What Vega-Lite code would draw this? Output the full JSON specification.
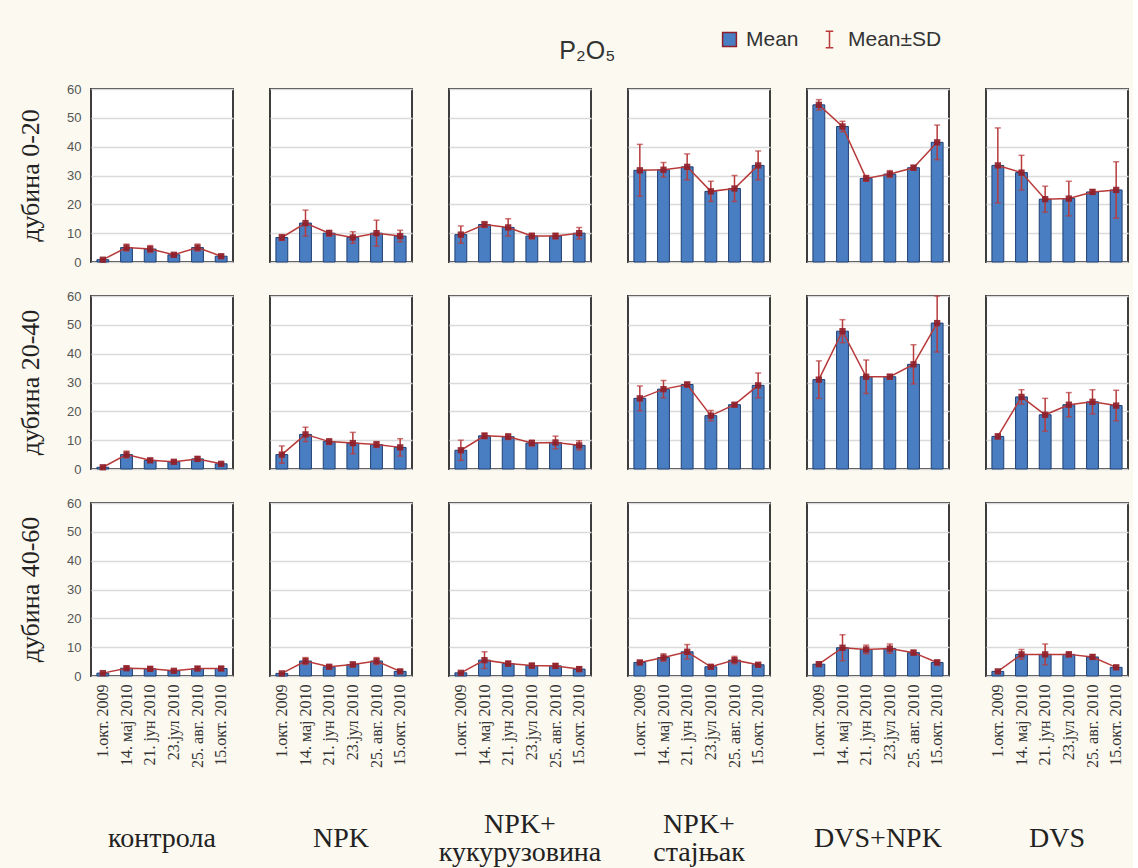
{
  "$schema": "https://vega.github.io/schema/vega-lite/v6.json",
  "background": "#fcf9f0",
  "padding": {"left": 17, "top": 29, "right": 4, "bottom": 0},
  "title": {"text": "P₂O₅", "font": "Liberation Sans", "fontSize": 25, "fontWeight": "normal", "color": "#333", "offset": 0, "dy": 35, "dx": 14, "anchor": "middle"},
  "datasets": {
    "p": [
      {"d":"дубина 0-20","t":"контрола","x":"1.окт. 2009","m":0.8,"s":0.3},
      {"d":"дубина 0-20","t":"контрола","x":"14. мај 2010","m":5,"s":1.2},
      {"d":"дубина 0-20","t":"контрола","x":"21. јун 2010","m":4.5,"s":1.2},
      {"d":"дубина 0-20","t":"контрола","x":"23.јул 2010","m":2.5,"s":0.5},
      {"d":"дубина 0-20","t":"контрола","x":"25. авг. 2010","m":5,"s":1.2},
      {"d":"дубина 0-20","t":"контрола","x":"15.окт. 2010","m":2,"s":0.4},
      {"d":"дубина 0-20","t":"NPK","x":"1.окт. 2009","m":8.5,"s":1},
      {"d":"дубина 0-20","t":"NPK","x":"14. мај 2010","m":13.5,"s":4.5},
      {"d":"дубина 0-20","t":"NPK","x":"21. јун 2010","m":10,"s":1},
      {"d":"дубина 0-20","t":"NPK","x":"23.јул 2010","m":8.5,"s":2},
      {"d":"дубина 0-20","t":"NPK","x":"25. авг. 2010","m":10,"s":4.5},
      {"d":"дубина 0-20","t":"NPK","x":"15.окт. 2010","m":9,"s":2},
      {"d":"дубина 0-20","t":"NPK+ кукурузовина","x":"1.окт. 2009","m":9.5,"s":3},
      {"d":"дубина 0-20","t":"NPK+ кукурузовина","x":"14. мај 2010","m":13,"s":1},
      {"d":"дубина 0-20","t":"NPK+ кукурузовина","x":"21. јун 2010","m":12,"s":3},
      {"d":"дубина 0-20","t":"NPK+ кукурузовина","x":"23.јул 2010","m":9,"s":1},
      {"d":"дубина 0-20","t":"NPK+ кукурузовина","x":"25. авг. 2010","m":9,"s":1},
      {"d":"дубина 0-20","t":"NPK+ кукурузовина","x":"15.окт. 2010","m":10,"s":2},
      {"d":"дубина 0-20","t":"NPK+ стајњак","x":"1.окт. 2009","m":31.8,"s":9},
      {"d":"дубина 0-20","t":"NPK+ стајњак","x":"14. мај 2010","m":32,"s":2.5},
      {"d":"дубина 0-20","t":"NPK+ стајњак","x":"21. јун 2010","m":33,"s":4.5},
      {"d":"дубина 0-20","t":"NPK+ стајњак","x":"23.јул 2010","m":24.5,"s":3.5},
      {"d":"дубина 0-20","t":"NPK+ стајњак","x":"25. авг. 2010","m":25.5,"s":4.5},
      {"d":"дубина 0-20","t":"NPK+ стајњак","x":"15.окт. 2010","m":33.5,"s":5},
      {"d":"дубина 0-20","t":"DVS+NPK","x":"1.окт. 2009","m":54.5,"s":1.8},
      {"d":"дубина 0-20","t":"DVS+NPK","x":"14. мај 2010","m":47,"s":1.8},
      {"d":"дубина 0-20","t":"DVS+NPK","x":"21. јун 2010","m":29,"s":1},
      {"d":"дубина 0-20","t":"DVS+NPK","x":"23.јул 2010","m":30.5,"s":1.2},
      {"d":"дубина 0-20","t":"DVS+NPK","x":"25. авг. 2010","m":32.7,"s":0.8},
      {"d":"дубина 0-20","t":"DVS+NPK","x":"15.окт. 2010","m":41.5,"s":6},
      {"d":"дубина 0-20","t":"DVS","x":"1.окт. 2009","m":33.5,"s":13},
      {"d":"дубина 0-20","t":"DVS","x":"14. мај 2010","m":31,"s":6},
      {"d":"дубина 0-20","t":"DVS","x":"21. јун 2010","m":21.8,"s":4.5},
      {"d":"дубина 0-20","t":"DVS","x":"23.јул 2010","m":22,"s":6},
      {"d":"дубина 0-20","t":"DVS","x":"25. авг. 2010","m":24.3,"s":0.8},
      {"d":"дубина 0-20","t":"DVS","x":"15.окт. 2010","m":25,"s":9.8},
      {"d":"дубина 20-40","t":"контрола","x":"1.окт. 2009","m":0.6,"s":0.3},
      {"d":"дубина 20-40","t":"контрола","x":"14. мај 2010","m":5,"s":1.2},
      {"d":"дубина 20-40","t":"контрола","x":"21. јун 2010","m":3,"s":0.6},
      {"d":"дубина 20-40","t":"контрола","x":"23.јул 2010","m":2.5,"s":0.5},
      {"d":"дубина 20-40","t":"контрола","x":"25. авг. 2010","m":3.5,"s":0.8},
      {"d":"дубина 20-40","t":"контрола","x":"15.окт. 2010","m":1.8,"s":0.3},
      {"d":"дубина 20-40","t":"NPK","x":"1.окт. 2009","m":5,"s":3},
      {"d":"дубина 20-40","t":"NPK","x":"14. мај 2010","m":12,"s":2.5},
      {"d":"дубина 20-40","t":"NPK","x":"21. јун 2010","m":9.5,"s":1},
      {"d":"дубина 20-40","t":"NPK","x":"23.јул 2010","m":9,"s":3.7},
      {"d":"дубина 20-40","t":"NPK","x":"25. авг. 2010","m":8.5,"s":1},
      {"d":"дубина 20-40","t":"NPK","x":"15.окт. 2010","m":7.5,"s":3},
      {"d":"дубина 20-40","t":"NPK+ кукурузовина","x":"1.окт. 2009","m":6.5,"s":3.5},
      {"d":"дубина 20-40","t":"NPK+ кукурузовина","x":"14. мај 2010","m":11.5,"s":1},
      {"d":"дубина 20-40","t":"NPK+ кукурузовина","x":"21. јун 2010","m":11.2,"s":1},
      {"d":"дубина 20-40","t":"NPK+ кукурузовина","x":"23.јул 2010","m":9,"s":1},
      {"d":"дубина 20-40","t":"NPK+ кукурузовина","x":"25. авг. 2010","m":9.2,"s":2.2},
      {"d":"дубина 20-40","t":"NPK+ кукурузовина","x":"15.окт. 2010","m":8.2,"s":1.6},
      {"d":"дубина 20-40","t":"NPK+ стајњак","x":"1.окт. 2009","m":24.5,"s":4.3},
      {"d":"дубина 20-40","t":"NPK+ стајњак","x":"14. мај 2010","m":27.7,"s":3},
      {"d":"дубина 20-40","t":"NPK+ стајњак","x":"21. јун 2010","m":29.3,"s":0.8},
      {"d":"дубина 20-40","t":"NPK+ стајњак","x":"23.јул 2010","m":18.5,"s":1.8},
      {"d":"дубина 20-40","t":"NPK+ стајњак","x":"25. авг. 2010","m":22.3,"s":0.6},
      {"d":"дубина 20-40","t":"NPK+ стајњак","x":"15.окт. 2010","m":29,"s":4.3},
      {"d":"дубина 20-40","t":"DVS+NPK","x":"1.окт. 2009","m":31,"s":6.5},
      {"d":"дубина 20-40","t":"DVS+NPK","x":"14. мај 2010","m":47.8,"s":4},
      {"d":"дубина 20-40","t":"DVS+NPK","x":"21. јун 2010","m":32,"s":5.8},
      {"d":"дубина 20-40","t":"DVS+NPK","x":"23.јул 2010","m":32,"s":0.8},
      {"d":"дубина 20-40","t":"DVS+NPK","x":"25. авг. 2010","m":36.3,"s":6.8},
      {"d":"дубина 20-40","t":"DVS+NPK","x":"15.окт. 2010","m":50.6,"s":10},
      {"d":"дубина 20-40","t":"DVS","x":"1.окт. 2009","m":11.3,"s":0.8},
      {"d":"дубина 20-40","t":"DVS","x":"14. мај 2010","m":25,"s":2.5},
      {"d":"дубина 20-40","t":"DVS","x":"21. јун 2010","m":18.8,"s":5.7},
      {"d":"дубина 20-40","t":"DVS","x":"23.јул 2010","m":22.3,"s":4.2},
      {"d":"дубина 20-40","t":"DVS","x":"25. авг. 2010","m":23.3,"s":4.2},
      {"d":"дубина 20-40","t":"DVS","x":"15.окт. 2010","m":22,"s":5.3},
      {"d":"дубина 40-60","t":"контрола","x":"1.окт. 2009","m":1,"s":0.2},
      {"d":"дубина 40-60","t":"контрола","x":"14. мај 2010","m":2.7,"s":0.6},
      {"d":"дубина 40-60","t":"контрола","x":"21. јун 2010","m":2.5,"s":0.6},
      {"d":"дубина 40-60","t":"контрола","x":"23.јул 2010","m":1.8,"s":0.3},
      {"d":"дубина 40-60","t":"контрола","x":"25. авг. 2010","m":2.6,"s":0.6},
      {"d":"дубина 40-60","t":"контрола","x":"15.окт. 2010","m":2.6,"s":0.6},
      {"d":"дубина 40-60","t":"NPK","x":"1.окт. 2009","m":0.9,"s":0.2},
      {"d":"дубина 40-60","t":"NPK","x":"14. мај 2010","m":5.2,"s":1.2},
      {"d":"дубина 40-60","t":"NPK","x":"21. јун 2010","m":3.2,"s":0.6},
      {"d":"дубина 40-60","t":"NPK","x":"23.јул 2010","m":4,"s":0.8},
      {"d":"дубина 40-60","t":"NPK","x":"25. авг. 2010","m":5.2,"s":1.2},
      {"d":"дубина 40-60","t":"NPK","x":"15.окт. 2010","m":1.6,"s":0.5},
      {"d":"дубина 40-60","t":"NPK+ кукурузовина","x":"1.окт. 2009","m":1.1,"s":0.2},
      {"d":"дубина 40-60","t":"NPK+ кукурузовина","x":"14. мај 2010","m":5.5,"s":2.9},
      {"d":"дубина 40-60","t":"NPK+ кукурузовина","x":"21. јун 2010","m":4.3,"s":0.8},
      {"d":"дубина 40-60","t":"NPK+ кукурузовина","x":"23.јул 2010","m":3.6,"s":0.8},
      {"d":"дубина 40-60","t":"NPK+ кукурузовина","x":"25. авг. 2010","m":3.5,"s":0.8},
      {"d":"дубина 40-60","t":"NPK+ кукурузовина","x":"15.окт. 2010","m":2.4,"s":0.8},
      {"d":"дубина 40-60","t":"NPK+ стајњак","x":"1.окт. 2009","m":4.7,"s":0.6},
      {"d":"дубина 40-60","t":"NPK+ стајњак","x":"14. мај 2010","m":6.4,"s":1.3},
      {"d":"дубина 40-60","t":"NPK+ стајњак","x":"21. јун 2010","m":8.4,"s":2.5},
      {"d":"дубина 40-60","t":"NPK+ стајњак","x":"23.јул 2010","m":3.2,"s":0.6},
      {"d":"дубина 40-60","t":"NPK+ стајњак","x":"25. авг. 2010","m":5.5,"s":1.3},
      {"d":"дубина 40-60","t":"NPK+ стајњак","x":"15.окт. 2010","m":3.9,"s":0.6},
      {"d":"дубина 40-60","t":"DVS+NPK","x":"1.окт. 2009","m":4.1,"s":0.6},
      {"d":"дубина 40-60","t":"DVS+NPK","x":"14. мај 2010","m":9.8,"s":4.5},
      {"d":"дубина 40-60","t":"DVS+NPK","x":"21. јун 2010","m":9.2,"s":1.5},
      {"d":"дубина 40-60","t":"DVS+NPK","x":"23.јул 2010","m":9.5,"s":1.6},
      {"d":"дубина 40-60","t":"DVS+NPK","x":"25. авг. 2010","m":8.1,"s":0.8},
      {"d":"дубина 40-60","t":"DVS+NPK","x":"15.окт. 2010","m":4.7,"s":0.8},
      {"d":"дубина 40-60","t":"DVS","x":"1.окт. 2009","m":1.6,"s":0.3},
      {"d":"дубина 40-60","t":"DVS","x":"14. мај 2010","m":7.5,"s":1.7},
      {"d":"дубина 40-60","t":"DVS","x":"21. јун 2010","m":7.5,"s":3.6},
      {"d":"дубина 40-60","t":"DVS","x":"23.јул 2010","m":7.5,"s":0.8},
      {"d":"дубина 40-60","t":"DVS","x":"25. авг. 2010","m":6.6,"s":0.8},
      {"d":"дубина 40-60","t":"DVS","x":"15.окт. 2010","m":3,"s":0.6}
    ]
  },
  "data": {"name": "p"},
  "facet": {
    "row": {"field": "d", "type": "nominal", "sort": ["дубина 0-20", "дубина 20-40", "дубина 40-60"],
      "header": {"title": null, "labelAngle": -90, "labelOrient": "left", "labelFont": "Liberation Serif", "labelFontSize": 26, "labelColor": "#222", "labelPadding": 10}},
    "column": {"field": "t", "type": "nominal", "sort": ["контрола", "NPK", "NPK+ кукурузовина", "NPK+ стајњак", "DVS+NPK", "DVS"],
      "header": {"title": null, "labelOrient": "bottom", "labelFont": "Liberation Serif", "labelFontSize": 28, "labelColor": "#222",
        "labelExpr": "split(datum.value, ' ')",
        "labelBaseline": {"expr": "indexof(parent['t'], ' ') > 0 ? 'bottom' : 'middle'"},
        "labelLineHeight": 28, "labelPadding": 72}}
  },
  "spacing": {"row": 29, "column": 35},
  "spec": {
    "width": 142,
    "height": 173,
    "encoding": {
      "x": {"field": "x", "type": "ordinal", "sort": ["1.окт. 2009", "14. мај 2010", "21. јун 2010", "23.јул 2010", "25. авг. 2010", "15.окт. 2010"],
        "scale": {"paddingInner": 0.5, "paddingOuter": 0.25},
        "axis": {"title": null, "labelAngle": -90, "labelFont": "Liberation Serif", "labelFontSize": 16, "labelColor": "#333", "ticks": false, "domain": false, "labelPadding": 6}},
      "y": {"field": "m", "type": "quantitative", "scale": {"domain": [0, 60], "clamp": true},
        "axis": {"title": null, "values": [0, 10, 20, 30, 40, 50, 60], "labelOverlap": false, "labelFont": "Liberation Sans", "labelFontSize": 13, "labelColor": "#555", "ticks": false, "domain": false, "labelPadding": 9, "gridColor": "#dadada", "gridWidth": 1.5}}
    },
    "layer": [
      {
        "mark": {"type": "bar", "stroke": "#1f3f70", "strokeWidth": 1},
        "encoding": {
          "fill": {"datum": "Mean", "type": "nominal",
            "scale": {"domain": ["Mean"], "range": ["#4a7ec2"]},
            "legend": {"title": null, "orient": "none", "legendX": 628, "legendY": -60, "padding": 0,
              "labelFont": "Liberation Sans", "labelFontSize": 21, "labelColor": "#333", "labelOffset": 6,
              "symbolType": "square", "symbolSize": 190, "symbolStrokeColor": "#8e1f2a", "symbolStrokeWidth": 1.5}}
        }
      },
      {
        "mark": {"type": "errorbar", "ticks": {"size": 6}, "thickness": 1.5, "color": "#b83a3a"},
        "encoding": {"yError": {"field": "s"}}
      },
      {
        "mark": {"type": "line", "strokeWidth": 1.5},
        "encoding": {
          "stroke": {"datum": "Mean±SD", "type": "nominal",
            "scale": {"domain": ["Mean±SD"], "range": ["#b83a3a"]},
            "legend": {"title": null, "orient": "none", "legendX": 728, "legendY": -60, "padding": 0,
              "labelFont": "Liberation Sans", "labelFontSize": 21, "labelColor": "#333", "labelOffset": 8,
              "symbolType": "M-0.45,-1H0.45M0,-1V1M-0.45,1H0.45", "symbolSize": 280, "symbolStrokeWidth": 1.5, "symbolFillColor": "transparent"}}
        }
      },
      {
        "mark": {"type": "point", "shape": "square", "filled": true, "color": "#8e1f2a", "size": 40, "opacity": 0.9}
      }
    ]
  },
  "config": {
    "view": {"stroke": "#3d3d3d", "strokeWidth": 2, "fill": "white"}
  }
}
